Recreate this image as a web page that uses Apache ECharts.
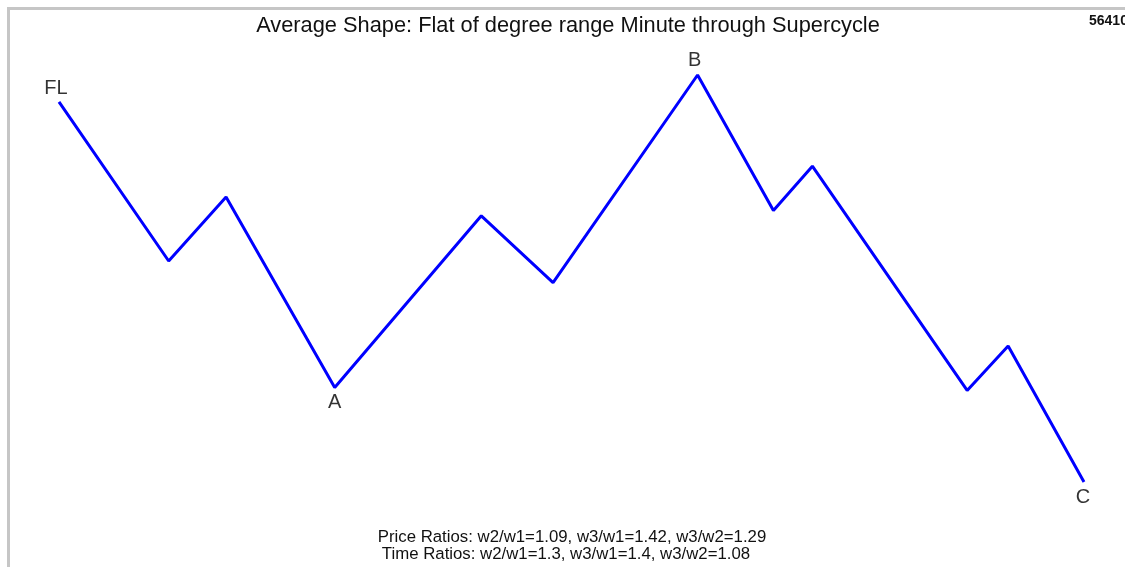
<!DOCTYPE html>
<html>
<head>
<meta charset="utf-8">
<script src="https://cdn.jsdelivr.net/npm/echarts@6/dist/echarts.min.js"></script>
<style>
html,body{margin:0;padding:0;background:#fff;}
#chart{width:1125px;height:567px;}
</style>
</head>
<body>
<div id="chart"></div>
<script>
// Wave time positions (0..100) and price levels (0..100)
const times  = [0, 10.7, 16.3, 26.9, 41.2, 48.2, 62.3, 69.7, 73.5, 88.6, 92.6, 100];
const prices = [93.4, 54.3, 70.0, 23.2, 65.4, 49.0, 100, 66.7, 77.6, 22.5, 33.4, 0];
const pointLabels = ['FL', '', '', 'A', '', '', 'B', '', '', '', '', 'C'];
const titleText = 'Average Shape: Flat of degree range Minute through Supercycle';
const priceRatios = 'Price Ratios: w2/w1=1.09, w3/w1=1.42, w3/w2=1.29';
const timeRatios  = 'Time Ratios: w2/w1=1.3, w3/w1=1.4, w3/w2=1.08';
const cornerId = '56410';

const FONT = 'Liberation Sans, Arial, sans-serif';
// label placement relative to its point (style, not data)
const labelOffset = { FL: [-3, -13], A: [0, 15], B: [-3, -15], C: [-1, 15] };

const lineData = times.map((t, i) => [t, prices[i]]);
const labelData = [];
times.forEach((t, i) => {
  if (pointLabels[i]) {
    labelData.push({
      value: [t, prices[i]],
      label: { show: true, formatter: pointLabels[i], position: 'inside', offset: labelOffset[pointLabels[i]] }
    });
  }
});

const chart = echarts.init(document.getElementById('chart'), null, { renderer: 'canvas' });
chart.setOption({
  backgroundColor: '#fff',
  animation: false,
  title: {
    text: titleText,
    left: 563,
    textAlign: 'center',
    top: 10,
    textStyle: { fontSize: 21.8, fontWeight: 'normal', color: '#111', fontFamily: FONT }
  },
  grid: { left: 59, right: 41, top: 75, bottom: 85 },
  xAxis: { type: 'value', min: 0, max: 100, show: false },
  yAxis: { type: 'value', min: 0, max: 100, show: false },
  series: [{
    type: 'line',
    data: lineData,
    symbol: 'none',
    lineStyle: { color: '#0000ff', width: 3 }
  }, {
    type: 'scatter',
    data: labelData,
    symbolSize: 0,
    itemStyle: { color: 'rgba(0,0,0,0)' },
    label: { show: true, color: '#000', fontSize: 20, fontFamily: FONT, align: 'center', verticalAlign: 'middle' },
    z: 5
  }],
  graphic: [
    { type: 'rect', shape: { x: 7, y: 7, width: 1125, height: 3 }, style: { fill: '#c6c6c6' } },
    { type: 'rect', shape: { x: 7, y: 7, width: 3, height: 570 }, style: { fill: '#c6c6c6' } },
    { type: 'text', x: 1089, y: 14, style: { text: cornerId, fontSize: 14, fontWeight: 'bold', fill: '#111', fontFamily: FONT } },
    { type: 'text', x: 572, y: 529, style: { text: priceRatios, textAlign: 'center', fontSize: 16.8, fill: '#111', fontFamily: FONT } },
    { type: 'text', x: 566, y: 546, style: { text: timeRatios, textAlign: 'center', fontSize: 16.8, fill: '#111', fontFamily: FONT } }
  ]
});
</script>
</body>
</html>
